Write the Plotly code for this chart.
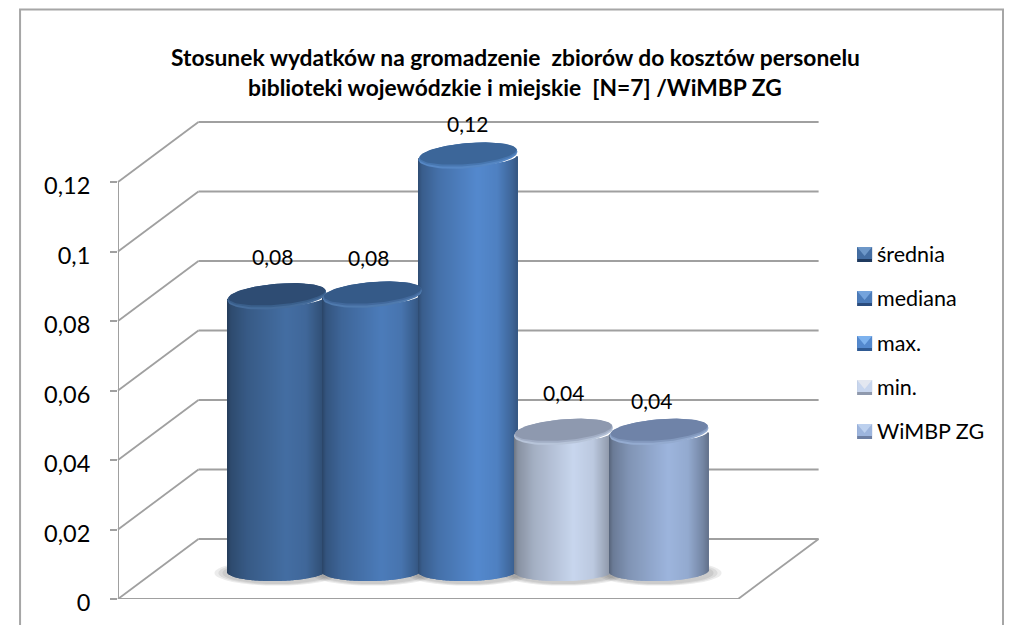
import numpy as np
import plotly.graph_objects as go

# data
series = ["średnia", "mediana", "max.", "min.", "WiMBP ZG"]
values = [0.079, 0.0795, 0.1195, 0.04, 0.04]
tick_values = [0, 0.02, 0.04, 0.06, 0.08, 0.1, 0.12]
tick_labels = ["0", "0,02", "0,04", "0,06", "0,08", "0,1", "0,12"]
title_lines = ["Stosunek wydatków na gromadzenie  zbiorów do kosztów personelu",
               "biblioteki wojewódzkie i miejskie  [N=7] /WiMBP ZG"]

# colours per series
body_peak = [(68, 110, 163), (76, 124, 186), (84, 137, 206), (200, 214, 238), (157, 181, 221)]
cap_col = ["#2e4c73", "#355a88", "#3c6699", "#8e99af", "#6f83a8"]
rim_mid = ["#3a5f8b", "#42699c", "#4877b0", "#a2aec5", "#8298bd"]
rim_col = ["#456c9b", "#4f7aae", "#5687c4", "#b7c4d9", "#94abd0"]
legend_top = ["#6d97c8", "#74a3dc", "#7db2ee", "#e3e7f0", "#bcd0ee"]
legend_bot = ["#1f3a5f", "#2a4c7d", "#2f5a93", "#8f99ad", "#6d7fa3"]

# geometry of the picture in pixels
W, H = 1012, 625
LEFT, BOTTOM = 117.5, 599
PX_PER_UNIT = 3475  # pixels per 1.0 on the value axis
PITCH = 95.6        # pixels between cylinders
FIRST = 276.5       # centre of the first cylinder
DEPTH_X, DEPTH_Y = 80.5, 60
RIGHT_FRONT = 738
MID_Y = 28          # floor of the cylinders above the front plane
A = 49.5
TOP_B, TOP_SHEAR = 12.5, -0.08
BOT_B, BOT_SHEAR = 10, -0.02
GRID = "#a0a0a0"
FONT = "Lato"


def xp(px):
    return (px - LEFT) / (W - LEFT)


def yp(py):
    return (BOTTOM - py) / BOTTOM


def to_x(px):
    return (px - FIRST) / PITCH


fig = go.Figure()

# axis line
fig.add_trace(go.Scatter(x=[to_x(LEFT)] * len(tick_values), y=tick_values, mode="lines",
                         line=dict(color=GRID, width=2), cliponaxis=False,
                         showlegend=False, hoverinfo="skip"))

shade_u = [0, 0.04, 0.2, 0.6, 0.8, 0.95, 1]
shade_m = [0.55, 0.68, 0.82, 1, 0.94, 0.74, 0.64]

strip_count = int(2 * A)
strip_w = 1 / PITCH
for i, name in enumerate(series):
    u = (np.arange(strip_count) + 0.5) / strip_count
    dx = (u - 0.5) * 2 * A
    arc = BOT_SHEAR * dx + BOT_B * np.sqrt(1 - (dx / A) ** 2)
    shade = np.interp(u, shade_u, shade_m)
    colors = [f"rgb({int(body_peak[i][0]*m)},{int(body_peak[i][1]*m)},{int(body_peak[i][2]*m)})" for m in shade]
    fig.add_trace(go.Bar(x=[i] * strip_count, y=[values[i]] * strip_count, base=-arc / PX_PER_UNIT,
                         offset=dx / PITCH - strip_w / 2, width=[strip_w] * strip_count,
                         marker=dict(color=colors, line=dict(width=0)), yaxis="y2", name=name,
                         showlegend=False, hoverinfo="skip"))
    # top of the cylinder, lighter rim at the front
    t = np.linspace(0, 2 * np.pi, 90)
    for scale_a, scale_b, up, col in [(1, 1, 0, rim_col[i]), (0.99, 0.92, 1.2, rim_mid[i]), (0.98, 0.84, 2.2, cap_col[i])]:
        ex = A * scale_a * np.cos(t)
        ey = TOP_SHEAR * ex + TOP_B * scale_b * np.sin(t) - up
        fig.add_trace(go.Scatter(x=i + ex / PITCH, y=values[i] - ey / PX_PER_UNIT, mode="lines", fill="toself",
                                 fillcolor=col, line=dict(width=0), yaxis="y2",
                                 showlegend=False, hoverinfo="skip"))

shapes = []
line = dict(color=GRID, width=1.8)
# frame
shapes.append(dict(type="rect", xref="paper", yref="paper", x0=xp(19.5), x1=xp(1003), y0=yp(650), y1=yp(9.5),
                   line=dict(color="#a6a6a6", width=2), layer="below"))
# walls and floor
for v in tick_values:
    shapes.append(dict(type="line", xref="paper", yref="y", x0=0, x1=xp(LEFT + DEPTH_X),
                       y0=v, y1=v + DEPTH_Y / PX_PER_UNIT, line=line, layer="below"))
    shapes.append(dict(type="line", xref="paper", yref="y", x0=xp(LEFT + DEPTH_X), x1=xp(RIGHT_FRONT + DEPTH_X),
                       y0=v + DEPTH_Y / PX_PER_UNIT, y1=v + DEPTH_Y / PX_PER_UNIT, line=line, layer="below"))
shapes.append(dict(type="line", xref="paper", yref="y", x0=0, x1=xp(RIGHT_FRONT), y0=0, y1=0, line=line, layer="below"))
shapes.append(dict(type="line", xref="paper", yref="y", x0=xp(RIGHT_FRONT), x1=xp(RIGHT_FRONT + DEPTH_X),
                   y0=0, y1=DEPTH_Y / PX_PER_UNIT, line=line, layer="below"))
# shadows on the floor
for i in range(len(series)):
    for grow in [13, 9, 5]:
        shapes.append(dict(type="circle", xref="x", yref="y2", x0=i - (A + grow) / PITCH, x1=i + (A + grow) / PITCH,
                           y0=-(BOT_B + grow * 0.2 + 2) / PX_PER_UNIT, y1=(BOT_B + grow * 0.2 - 2) / PX_PER_UNIT,
                           fillcolor="rgba(70,70,70,0.1)", line=dict(width=0), layer="below"))

annotations = []
# title lines
for text, py in zip(title_lines, [57, 87]):
    annotations.append(dict(text=f"<b>{text}</b>", xref="paper", yref="paper", x=xp(515), y=yp(py), showarrow=False,
                            xanchor="center", yanchor="middle", font=dict(family=FONT, size=22.8, color="black")))

# value labels
label_dx = [-4, -4, -1, 0, -8]
label_dy = [40, 37, 32, 39.5, 31.5]
for i, v in enumerate(values):
    annotations.append(dict(text=f"{v:.2f}".replace(".", ","), x=i, y=v, xref="x", yref="y2", showarrow=False,
                            xshift=label_dx[i], yshift=label_dy[i], font=dict(family=FONT, size=21, color="black")))

# legend
legend_y = [254, 298, 343, 387, 431]
for name, py, top, bot, peak in zip(series, legend_y, legend_top, legend_bot, body_peak):
    x0, x1, y0, y1 = xp(857), xp(872), yp(py - 7), yp(py + 8)
    mid = f"rgb({peak[0]},{peak[1]},{peak[2]})"
    shapes.append(dict(type="rect", xref="paper", yref="paper", x0=x0, x1=x1, y0=y0, y1=y1,
                       fillcolor=bot, line=dict(width=0)))
    shapes.append(dict(type="rect", xref="paper", yref="paper", x0=x0, x1=x1, y0=yp(py - 7), y1=yp(py + 5),
                       fillcolor=mid, line=dict(width=0)))
    shapes.append(dict(type="path", xref="paper", yref="paper",
                       path=f"M {x0} {y0} L {x1} {y0} L {(x0 + x1) / 2} {yp(py + 2)} Z",
                       fillcolor=top, line=dict(width=0)))
    annotations.append(dict(text=name, xref="paper", yref="paper", x=xp(875), y=yp(py), showarrow=False,
                            xanchor="left", yanchor="middle", font=dict(family=FONT, size=21.5, color="black")))

fig.update_layout(
    width=W, height=H,
    margin=dict(l=LEFT, r=0, t=0, b=H - BOTTOM),
    plot_bgcolor="white", paper_bgcolor="white",
    barmode="overlay", showlegend=False,
    shapes=shapes, annotations=annotations,
    xaxis=dict(range=[to_x(LEFT), to_x(W)], visible=False, fixedrange=True),
    yaxis=dict(range=[0, BOTTOM / PX_PER_UNIT], tickvals=tick_values, ticktext=tick_labels,
               showgrid=False, zeroline=False, showline=False, ticks="outside", ticklen=7, tickwidth=2,
               tickcolor=GRID, ticklabelstandoff=15, ticklabelshift=4,
               tickfont=dict(family=FONT, size=23.5, color="black"), fixedrange=True),
    yaxis2=dict(range=[-MID_Y / PX_PER_UNIT, (BOTTOM - MID_Y) / PX_PER_UNIT], overlaying="y", visible=False, fixedrange=True),
)

# the default page keeps the body margin, which would shift the chart
fig.write_html("out.html", config=dict(displayModeBar=False),
               post_script="document.body.style.margin='0';document.body.style.overflow='hidden';")
